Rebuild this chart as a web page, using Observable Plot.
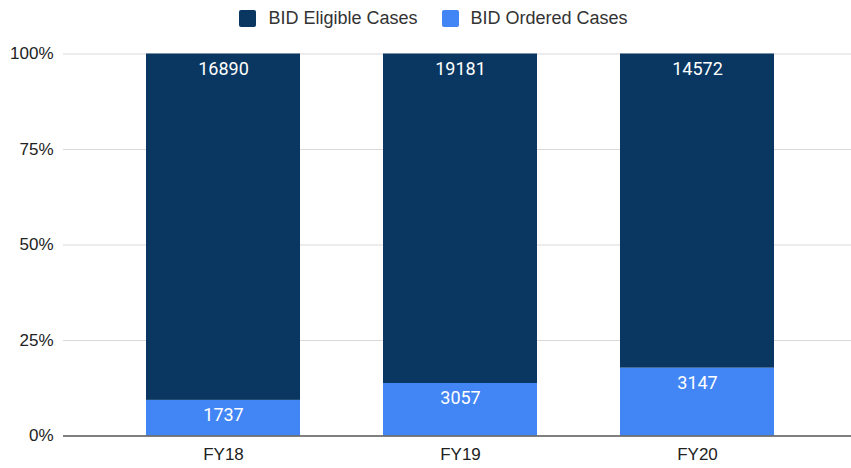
<!DOCTYPE html>
<html>
<head>
<meta charset="utf-8">
<script src="https://cdn.jsdelivr.net/npm/d3@7"></script>
<script src="https://cdn.jsdelivr.net/npm/@observablehq/plot@0.6"></script>
<style>
  body { margin: 0; background: #fff; width: 851px; height: 468px; overflow: hidden; }
  #legend { height: 36px; display: flex; align-items: center; justify-content: center; padding-left: 16px; box-sizing: border-box;
    font-family: "Liberation Sans", Arial, sans-serif; font-size: 18px; color: #333; }
  .item { display: flex; align-items: center; margin: 0 12px; }
  .sw { width: 17px; height: 17px; border-radius: 2px; margin-right: 12px; }
  svg { display: block; }
</style>
</head>
<body>
<div id="legend"></div>
<div id="chart"></div>
<script>
const categories = ["FY18", "FY19", "FY20"];
const seriesNames = ["BID Ordered Cases", "BID Eligible Cases"];
const orderedCases = [1737, 3057, 3147];
const eligibleCases = [16890, 19181, 14572];
const yTickValues = [0, 0.25, 0.5, 0.75, 1];
const yTickLabels = ["0%", "25%", "50%", "75%", "100%"];
const colors = ["#4285f4", "#0a3761"];
const legendOrder = ["BID Eligible Cases", "BID Ordered Cases"];

const data = [];
categories.forEach((c, i) => {
  data.push({year: c, series: seriesNames[0], value: orderedCases[i]});
  data.push({year: c, series: seriesNames[1], value: eligibleCases[i]});
});

const legend = document.getElementById("legend");
legendOrder.forEach(name => {
  const it = document.createElement("div");
  it.className = "item";
  const sw = document.createElement("div");
  sw.className = "sw";
  sw.style.background = colors[seriesNames.indexOf(name)];
  const t = document.createElement("span");
  t.textContent = name;
  it.appendChild(sw); it.appendChild(t);
  legend.appendChild(it);
});

const stackOpts = {x: "year", y: "value", z: "series", offset: "normalize"};

const chart = Plot.plot({
  width: 851,
  height: 432,
  marginLeft: 63,
  marginRight: 0,
  marginTop: 17.5,
  marginBottom: 32.5,
  style: {fontFamily: "'Liberation Sans', Arial, sans-serif", fontSize: "17px", color: "#222", background: "#fff"},
  x: {domain: categories, range: [104.5, 815.5], paddingInner: 0.35, paddingOuter: 0.175, label: null},
  y: {domain: [0, 1], label: null},
  color: {domain: seriesNames, range: colors},
  marks: [
    Plot.ruleY(yTickValues.slice(1), {stroke: "#d9d9d9", strokeWidth: 1}),
    Plot.barY(data, Plot.stackY({...stackOpts, fill: "series", inset: 0})),
    Plot.ruleY([0], {stroke: "#555", strokeWidth: 1.6}),
    Plot.text(data, Plot.stackY2({...stackOpts, text: d => String(d.value), fill: "white", dy: 15, fontSize: 18, fontFamily: "Roboto, sans-serif", lineAnchor: "middle"})),
    Plot.axisY({ticks: yTickValues, tickFormat: d => yTickLabels[yTickValues.indexOf(d)], tickSize: 0, tickPadding: 10, label: null, fontSize: 17}),
    Plot.axisX({tickSize: 0, tickPadding: 12, label: null, fontSize: 17})
  ]
});
document.getElementById("chart").appendChild(chart);
</script>
</body>
</html>
